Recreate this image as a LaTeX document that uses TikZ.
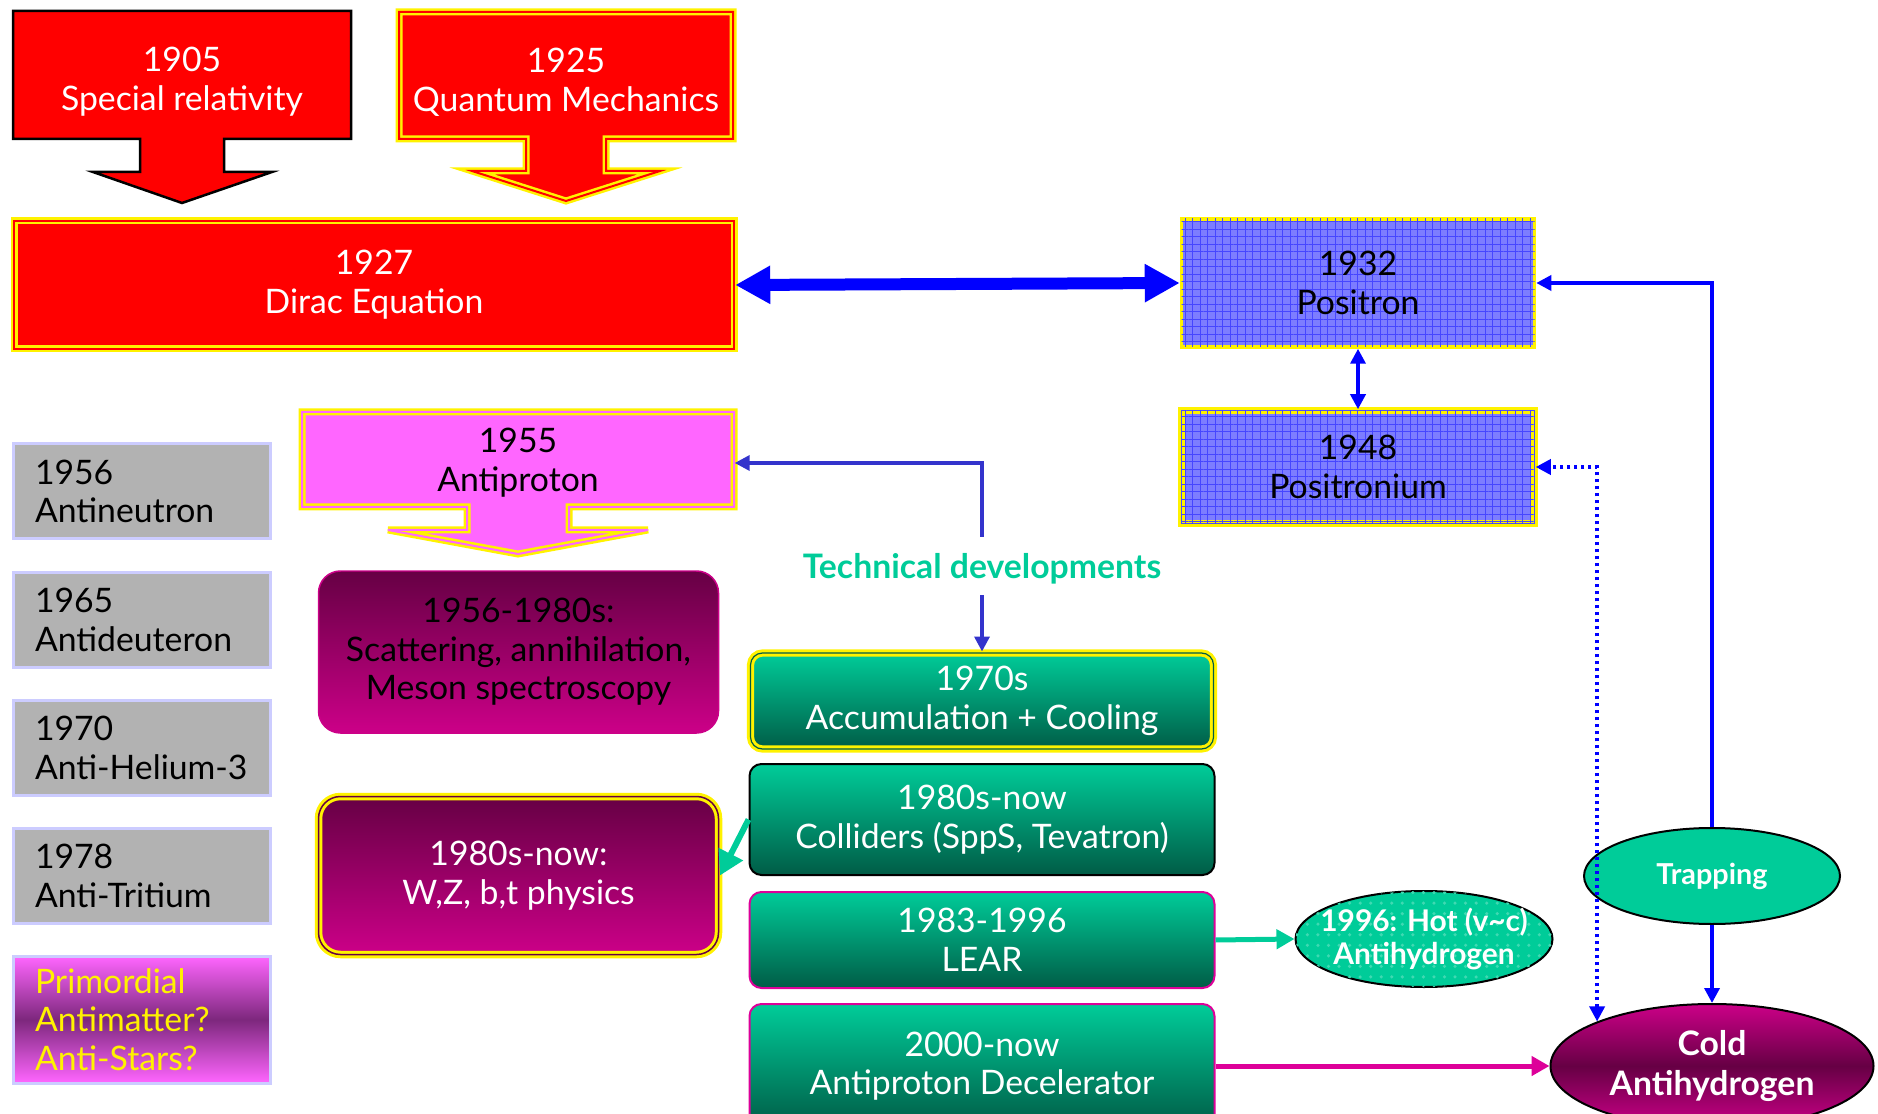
\documentclass[tikz,border=0pt]{standalone}
\usepackage{fontspec}
\setmainfont{Lato}
\usetikzlibrary{positioning,shapes.geometric,arrows.meta,patterns,patterns.meta,calc}
\definecolor{tgreen}{RGB}{0,204,153}
\definecolor{dgreen}{RGB}{0,92,70}
\definecolor{wine}{RGB}{102,0,68}
\definecolor{mag}{RGB}{204,0,136}
\definecolor{amag}{RGB}{221,0,153}
\definecolor{pink}{RGB}{255,102,255}
\definecolor{plum}{RGB}{125,40,125}
\definecolor{pblue}{RGB}{125,125,255}
\definecolor{gblue}{RGB}{70,70,255}
\definecolor{lav}{RGB}{204,204,255}
\definecolor{tblue}{RGB}{51,51,204}

\begin{document}
\begin{tikzpicture}[x=0.1mm, y=-0.1mm, font=\fontsize{9.6}{11}\selectfont,
	every node/.style={align=center, inner sep=0pt},
	yred/.style={draw=yellow, double=red, line width=0.25mm, double distance=0.2mm},
	ypink/.style={draw=yellow, double=pink, line width=0.25mm, double distance=0.2mm},
	posbox/.style={fill=pblue, postaction={pattern={Lines[distance=0.75mm, angle=0, line width=0.05mm]}, pattern color=gblue},
		postaction={pattern={Lines[distance=0.75mm, angle=90, line width=0.05mm]}, pattern color=gblue}, minimum width=35.3mm},
	graybox/.style={fill=black!30, draw=lav, line width=0.3mm, text width=21.3mm, align=left, minimum height=9.5mm, inner xsep=2.2mm},
	greenbox/.style={rounded corners=1.2mm, top color=tgreen, bottom color=dgreen, text=white, minimum width=46.5mm},
	purplebox/.style={rounded corners=2.2mm, top color=wine, bottom color=mag, minimum width=40mm},
	oval/.style={ellipse, draw=black, line width=0.2mm, text=white, font=\fontsize{8.2}{10}\selectfont\bfseries},
	blueline/.style={draw=blue, line width=0.35mm},
	bluetip/.tip={Triangle[length=1.5mm, width=1.5mm]},
	greenarrow/.style={draw=tgreen, line width=0.5mm, -{Triangle[length=1.8mm, width=1.9mm]}},
	magarrow/.style={draw=amag, line width=0.5mm, -{Triangle[length=1.8mm, width=1.9mm]}}]
	\useasboundingbox (0,0) rectangle (1878,1114);

	\filldraw[fill=red, draw=black, line width=0.25mm] (13,11) -- (351,11) -- (351,139) -- (224,139) -- (224,172) -- (272,172) -- (182,203) -- (93,172) -- (140,172) -- (140,139) -- (13,139) -- cycle;
	\node (sr) [text=white] at (182,82) {1905\\Special relativity};
	\filldraw[yred, fill=red] (399,12) -- (733,12) -- (733,139) -- (606,139) -- (606,171) -- (660,171) -- (566,201) -- (472,171) -- (526,171) -- (526,139) -- (399,139) -- cycle;
	\node (qm) [text=white] at (566,82) {1925\\Quantum Mechanics};
	\node (dirac) [yred, fill=red, text=white, minimum width=72mm, minimum height=12.8mm] at (374,285) {1927\\Dirac Equation};

	\node (pos) [posbox, draw=yellow, line width=0.35mm, minimum height=12.8mm] at (1358,283) {1932\\Positron};
	\node (ps) [posbox, draw=yellow, double=blue!70, line width=0.25mm, double distance=0.15mm, minimum height=11.3mm] at (1358,467) {1948\\Positronium};

	\filldraw[ypink, fill=pink] (302,412) -- (734,412) -- (734,507) -- (569,507) -- (569,530) -- (648,530) -- (518,554) -- (388,530) -- (467,530) -- (467,507) -- (302,507) -- cycle;
	\node (ap) [minimum width=43.2mm, minimum height=9.5mm] at (518,463) {1955\\Antiproton};
	\node (meson) [purplebox, draw=mag, line width=0.15mm, minimum height=16.2mm] at (518.5,652) {1956-1980s:\\Scattering, annihilation,\\Meson spectroscopy};
	\node (wz) [purplebox, text=white, draw=yellow, double=wine, line width=0.3mm, double distance=0.15mm, minimum height=15.8mm] at (518.5,875.5) {1980s-now:\\W,Z, b,t physics};

	\node (an) [graybox] at (141.5,491.5) {1956\\Antineutron};
	\node (ad2) [graybox] at (141.5,620) {1965\\Antideuteron};
	\node (ahe) [graybox] at (141.5,748) {1970\\Anti-Helium-3};
	\node (at) [graybox] at (141.5,876) {1978\\Anti-Tritium};
	\node (prim) [graybox, draw=lav, top color=pink, bottom color=pink, middle color=plum, text=yellow, minimum height=12.7mm] at (141.5,1019.5) {Primordial\\Antimatter?\\Anti-Stars?};

	\node (tech) [text=tgreen, font=\fontsize{9.6}{11}\selectfont\bfseries] at (982,569) {Technical developments};
	\node (c70) [greenbox, draw=yellow, double=dgreen, line width=0.3mm, double distance=0.12mm, minimum width=46.3mm, minimum height=9.6mm] at (982,701) {1970s\\Accumulation + Cooling};
	\node (coll) [greenbox, draw=black, line width=0.2mm, minimum height=11.1mm] at (982,819.5) {1980s-now\\Colliders (SppS, Tevatron)};
	\node (lear) [greenbox, draw=amag, line width=0.2mm, minimum height=9.6mm] at (982,940) {1983-1996\\LEAR};
	\node (ad) [greenbox, draw=amag, line width=0.2mm, minimum height=12.4mm] at (982,1066) {2000-now\\Antiproton Decelerator};

	\node (hot) [oval, fill=tgreen, postaction={pattern=dots, pattern color=white!25!tgreen}, inner xsep=-1.5mm, minimum width=25.7mm, minimum height=9.6mm, font=\fontsize{8.5}{9.5}\selectfont\bfseries] at (1424,939) {1996: Hot (v\textasciitilde c)\\Antihydrogen};
	\node (trap) [oval, fill=tgreen, minimum width=25.6mm, minimum height=9.6mm] at (1712,876) {Trapping};
	\node (cold) [oval, top color=mag, bottom color=mag, middle color=wine, minimum width=32.3mm, minimum height=12.4mm, font=\fontsize{9.6}{11.2}\selectfont\bfseries] at (1712,1066) {Cold\\Antihydrogen};

	\draw [draw=blue, line width=1.2mm, {Triangle[length=3.5mm, width=3.6mm]}-{Triangle[length=3.5mm, width=3.6mm]}] (dirac.east) -- (pos.west);
	\draw [blueline, bluetip-bluetip] (pos.south) -- (ps.north);
	\draw [blueline, -bluetip] (trap.north) |- (pos.east);
	\draw [blueline, -bluetip] (trap.south) -- (cold.north);
	\draw [blueline, dash pattern=on 0.35mm off 0.35mm, bluetip-bluetip] (cold.north west) |- (ps.east);
	\draw [draw=tblue, line width=0.35mm, -bluetip, shorten <=1.6mm] (tech.north) |- (ap.east);
	\draw [draw=tblue, line width=0.35mm, -bluetip, shorten <=1mm] (tech.south) -- (c70.north);
	\draw [greenarrow, line width=0.6mm, -{Triangle[length=2.4mm, width=2.6mm]}] (coll.west) -- (wz.east);
	\draw [greenarrow] (lear.east) -- (hot.west);
	\draw [magarrow] (ad.east) -- (cold.west);
\end{tikzpicture}
\end{document}
